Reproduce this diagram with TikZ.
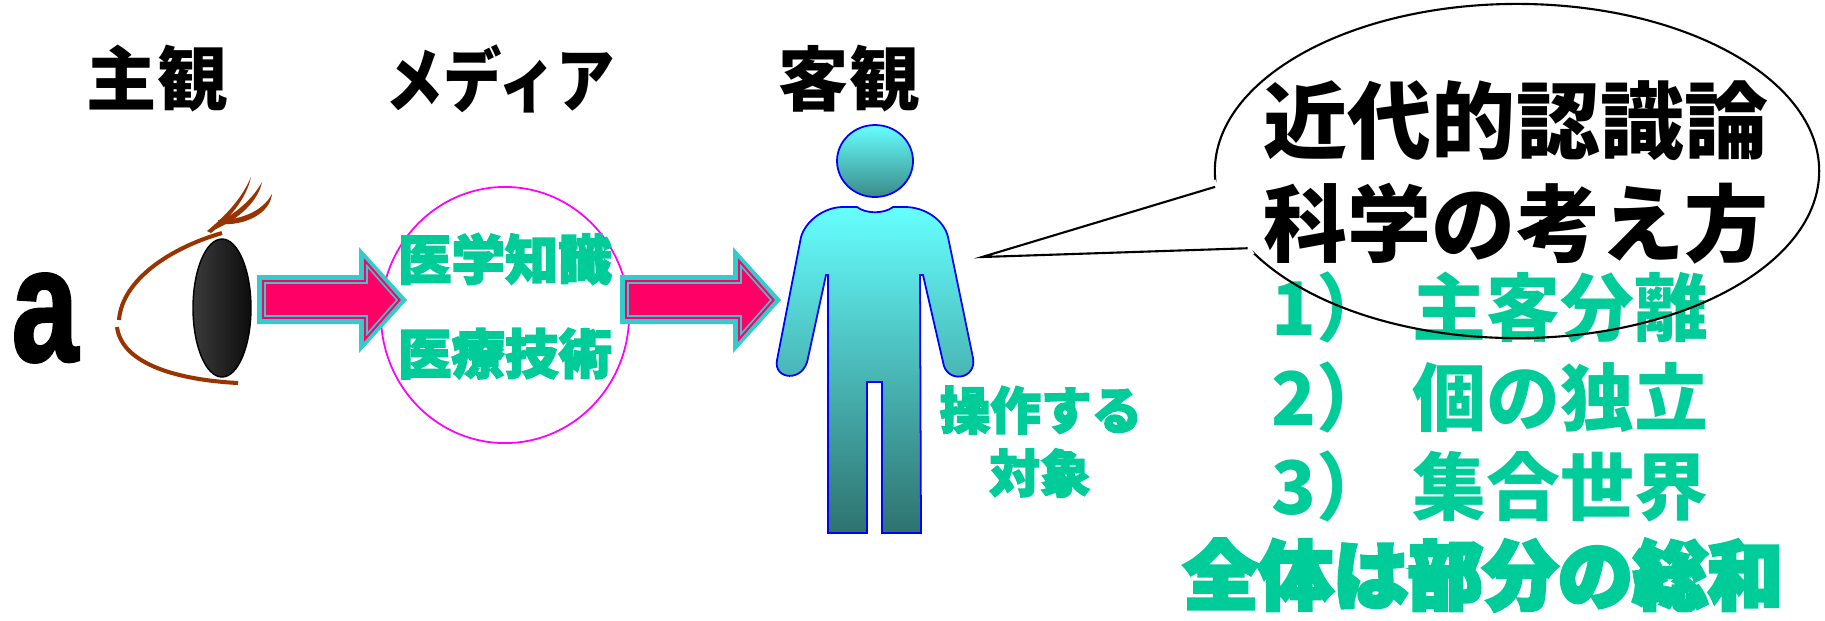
\documentclass[tikz,border=0pt]{standalone}
\usepackage{fontspec}
\usetikzlibrary{positioning,shapes.geometric}

\newfontfamily\jp{Noto Sans CJK JP}
\newfontfamily\jpheavy{Noto Sans CJK JP}[BoldFeatures={FakeBold=3}]
\newfontfamily\jpblack{Noto Sans CJK JP}[BoldFeatures={FakeBold=5}]
\newfontfamily\latinsans{Liberation Sans}[BoldFeatures={FakeBold=2}]

\definecolor{leafgreen}{HTML}{00CC99}
\definecolor{ringmagenta}{HTML}{FF00FF}
\definecolor{arrowcyan}{HTML}{33CCCC}
\definecolor{arrowpink}{HTML}{FF0066}
\definecolor{lidbrown}{HTML}{993300}
\definecolor{pupilgrey}{HTML}{3A3A3A}
\definecolor{bodytop}{HTML}{66FFFF}
\definecolor{bodymid}{HTML}{55CFCF}
\definecolor{bodybot}{HTML}{2E726F}
\definecolor{headbot}{HTML}{3A8A88}

\tikzset{
	heading/.style={inner sep=0pt, font=\jp\bfseries\fontsize{20}{20}\selectfont},
	mediatext/.style={inner sep=0pt, text=leafgreen, font=\jpheavy\bfseries\fontsize{15.2}{15.2}\selectfont},
	targettext/.style={inner sep=0pt, text=leafgreen, font=\jpheavy\bfseries\fontsize{14.4}{14.4}\selectfont},
	bubbletext/.style={inner sep=0pt, font=\jp\bfseries\fontsize{23.9}{23.9}\selectfont},
	itemtext/.style={inner sep=0pt, anchor=west, text=leafgreen, font=\jp\bfseries\fontsize{21}{21}\selectfont},
	bodyline/.style={draw=blue, line width=0.5pt},
	lid/.style={draw=lidbrown, line width=1.15pt},
}

% block arrow: #1 = left end, #2 = length of the shaft
\newcommand{\blockarrow}[2]{%
	\begin{scope}[shift={(#1,0)}]
		\fill[arrowcyan] (0,275) -- (#2,275) -- (#2,247) -- (#2+48,300) -- (#2,353) -- (#2,324) -- (0,324) -- cycle;
		\filldraw[fill=arrowpink, draw=arrowpink, line width=0.6pt, double=arrowcyan, double distance=0.45pt]
			(8,283) -- (#2+8,283) -- (#2+8,266) -- (#2+38,300) -- (#2+8,334) -- (#2+8,316) -- (8,316) -- cycle;
	\end{scope}}

\begin{document}
\begin{tikzpicture}[x=0.01cm, y=-0.01cm]
	\useasboundingbox (0,0) rectangle (1825,620);

	% Define nodes
	\node[heading] (subj) at (157,79) {主観};
	\node[heading] (medium) at (500,79) {\scalebox{0.83}[1]{メディア}};
	\node[heading] (obj) at (849,79) {客観};

	\node[inner sep=0pt, font=\latinsans\bfseries\fontsize{46}{46}\selectfont] (letter) at (45,318) {\scalebox{0.74}[1]{a}};

	\node[draw=ringmagenta, line width=0.5pt, ellipse, minimum width=2.48cm, minimum height=2.56cm] (media) at (505,315) {};
	\node[mediatext] (knowledge) at (505,259) {医学知識};
	\node[mediatext, below=0.42cm of knowledge] (technique) {医療技術};

	\node[targettext] (operate) at (1041,410) {操作する};
	\node[targettext] (target) at (1040,473) {対象};

	\node[itemtext] (item1) at (1271,307) {1）\hspace{0.3em}主客分離};
	\node[itemtext] (item2) at (1271,397) {2）\hspace{0.3em}個の独立};
	\node[itemtext] (item3) at (1271,486) {3）\hspace{0.3em}集合世界};
	\node[inner sep=0pt, text=leafgreen, font=\jpblack\bfseries\fontsize{21.3}{21.3}\selectfont] (whole) at (1483,575) {全体は部分の総和};

	% speech bubble
	\node[draw, line width=0.6pt, ellipse, minimum width=6.04cm, minimum height=3.34cm] (bubble) at (1517,171) {};
	\coordinate (tailtip) at (982,257);
	\path[fill=white, draw=white, line width=1pt] (bubble.182) -- (tailtip) -- (bubble.197) -- cycle;
	\draw[line width=0.6pt, line join=miter] (bubble.183) -- (tailtip) -- (bubble.196);
	\node[bubbletext] (theory) at (1516,121) {近代的認識論};
	\node[bubbletext] (science) at (1516,224) {科学の考え方};

	% eye
	\draw[lid] (222,233) .. controls (170,248) and (122,280) .. (119,320);
	\draw[lid] (117,327) .. controls (122,365) and (180,380) .. (238,383);
	\fill[lidbrown] (207,231) .. controls (228,214) and (243,196) .. (251,177) .. controls (246,200) and (228,220) .. (211,233) -- cycle;
	\fill[lidbrown] (214,225) .. controls (235,214) and (252,200) .. (262,182) .. controls (258,202) and (238,219) .. (216,229) -- cycle;
	\fill[lidbrown] (218,220) .. controls (240,220) and (262,212) .. (272,194) .. controls (270,214) and (244,226) .. (220,224) -- cycle;
	\draw[left color=pupilgrey, right color=black!95, draw=black, line width=0.4pt] (222,308) ellipse [x radius=29, y radius=69];

	% arrows
	\blockarrow{257}{102}
	\blockarrow{620}{113}

	% person
	\draw[bodyline, top color=bodytop, bottom color=headbot] (875,161) ellipse [x radius=38, y radius=36];
	\draw[bodyline, top color=bodytop, middle color=bodymid, bottom color=bodybot]
		(843,207) -- (857,207) .. controls (866,214) and (884,214) .. (893,207) -- (905,207)
		.. controls (925,207) and (944,220) .. (948,237)
		-- (973,358) .. controls (977,380) and (946,384) .. (943,362)
		-- (923,275) -- (920,275) -- (921,533) -- (882,533) -- (882,382) -- (867,382) -- (867,533) -- (828,533)
		-- (828,275) -- (826,275) -- (808,358) .. controls (804,383) and (773,380) .. (777,360)
		-- (801,237) .. controls (806,220) and (825,207) .. (843,207) -- cycle;
\end{tikzpicture}
\end{document}
